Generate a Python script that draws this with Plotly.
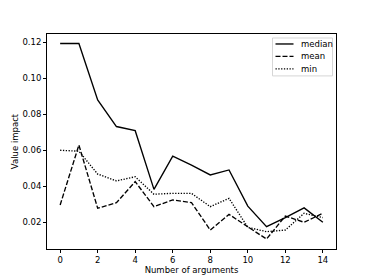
import plotly.graph_objects as go

n_args = list(range(15))
median = [0.1193, 0.1193, 0.0880, 0.0732, 0.0709, 0.0383, 0.0568, 0.0518, 0.0463, 0.0491,
          0.0290, 0.0176, 0.0226, 0.0280, 0.0200]
mean = [0.0296, 0.0629, 0.0278, 0.0309, 0.0426, 0.0287, 0.0324, 0.0309, 0.0157, 0.0244,
        0.0175, 0.0107, 0.0235, 0.0200, 0.0250]
minimum = [0.0600, 0.0595, 0.0468, 0.0430, 0.0453, 0.0356, 0.0361, 0.0361, 0.0287, 0.0333,
           0.0172, 0.0148, 0.0157, 0.0250, 0.0226]

x_ticks = [0, 2, 4, 6, 8, 10, 12, 14]
y_ticks = [0.02, 0.04, 0.06, 0.08, 0.10, 0.12]

series_names = ["median", "mean", "min"]
series_values = [median, mean, minimum]
series_dash = ["solid", "5px,2px", "1.3px,1.5px"]

FONT = "DejaVu Sans"
W, H = 374, 280
L, R, T, B = 47, 38, 33.5, 31
pw, ph = W - L - R, H - T - B

fig = go.Figure()
for name, vals, dash in zip(series_names, series_values, series_dash):
    fig.add_trace(go.Scatter(x=n_args, y=vals, mode="lines", name=name,
                             line=dict(color="black", width=1.35, dash=dash)))

axis_common = dict(showline=True, mirror=True, linecolor="black", linewidth=0.8,
                   ticks="outside", ticklen=3, tickwidth=0.8, tickcolor="black",
                   showgrid=False, zeroline=False, automargin=False,
                   tickfont=dict(family=FONT, size=8.5, color="black"))

fig.update_xaxes(range=[-0.7, 14.7], tickvals=x_ticks, ticktext=[str(v) for v in x_ticks],
                 title=dict(text="Number of arguments", font=dict(family=FONT, size=8.5, color="black"), standoff=1),
                 **axis_common)
fig.update_yaxes(range=[0.00517, 0.1246], tickvals=y_ticks, ticktext=[f"{v:.2f}" for v in y_ticks],
                 title=dict(text="Value impact", font=dict(family=FONT, size=8.5, color="black"), standoff=2),
                 **axis_common)

# manual legend (matplotlib-like compact box)
def px_x(p):
    return (p - L) / pw
def px_y(p):
    return (H - B - p) / ph

shapes = [dict(type="rect", xref="paper", yref="paper",
               x0=px_x(272.5), x1=px_x(332.5), y0=px_y(75.5), y1=px_y(37.5),
               line=dict(color="#cccccc", width=0.8), fillcolor="rgba(255,255,255,0.8)", layer="above")]
annotations = []
row_y = [43.5, 56, 68.5]
for name, dash, yy in zip(series_names, series_dash, row_y):
    shapes.append(dict(type="line", xref="paper", yref="paper",
                       x0=px_x(275.5), x1=px_x(293.5), y0=px_y(yy), y1=px_y(yy),
                       line=dict(color="black", width=1.35, dash=dash), layer="above"))
    annotations.append(dict(text=name, xref="paper", yref="paper", x=px_x(298.5), y=px_y(yy),
                            xanchor="left", yanchor="middle", showarrow=False,
                            font=dict(family=FONT, size=8.5, color="black")))

fig.update_layout(
    width=W, height=H,
    margin=dict(l=L, r=R, t=T, b=B, pad=0),
    paper_bgcolor="white", plot_bgcolor="white",
    font=dict(family=FONT, size=8.5, color="black"),
    showlegend=False,
    shapes=shapes, annotations=annotations,
)

fig.write_html("out.html", config={"displayModeBar": False},
               post_script="document.body.style.margin='0';document.body.style.overflow='hidden';")
